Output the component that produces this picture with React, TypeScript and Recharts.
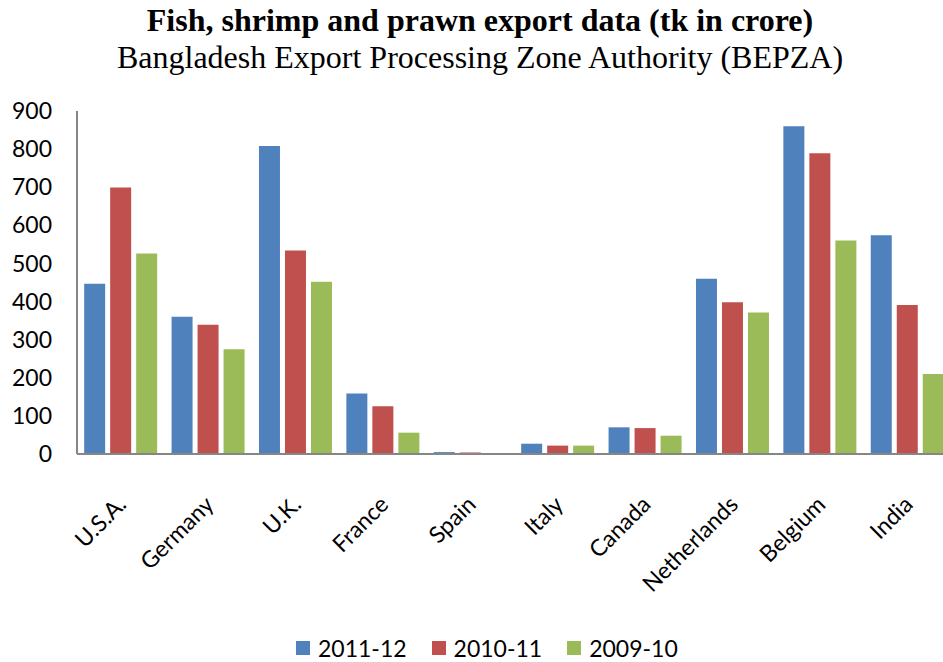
import { Bar, BarChart, XAxis, YAxis } from "recharts";

const countries = [
  "U.S.A.",
  "Germany",
  "U.K.",
  "France",
  "Spain",
  "Italy",
  "Canada",
  "Netherlands",
  "Belgium",
  "India",
];
const y2011_12 = [447, 360, 808, 159, 5, 27, 70, 460, 860, 574];
const y2010_11 = [699, 339, 534, 125, 4, 22, 68, 398, 789, 391];
const y2009_10 = [526, 275, 452, 56, 0, 22, 48, 371, 560, 210];
const yTicks = [0, 100, 200, 300, 400, 500, 600, 700, 800, 900];

const SERIES = [
  { key: "s1", name: "2011-12", color: "#4F81BD", values: y2011_12 },
  { key: "s2", name: "2010-11", color: "#C0504D", values: y2010_11 },
  { key: "s3", name: "2009-10", color: "#9BBB59", values: y2009_10 },
];

const data = countries.map((c, i) => ({
  country: c,
  s1: y2011_12[i],
  s2: y2010_11[i],
  s3: y2009_10[i],
}));

const AXIS_COLOR = "#868686";
const FONT = "Lato, 'Liberation Sans', sans-serif";

function CountryTick({ x, y, payload }: any) {
  return (
    <text
      x={x + 7}
      y={y + 44}
      textAnchor="end"
      transform={`rotate(-45, ${x + 7}, ${y + 44})`}
      fontSize={23}
      fontFamily={FONT}
      fill="#000"
    >
      {payload.value}
    </text>
  );
}

export default function App() {
  return (
    <div
      style={{
        position: "absolute",
        left: 0,
        top: 0,
        width: 943,
        height: 662,
        overflow: "hidden",
        background: "#fff",
      }}
    >
      <div
        style={{
          position: "absolute",
          left: 0,
          width: 960,
          top: 2,
          textAlign: "center",
          fontFamily: "'Liberation Serif', 'Times New Roman', serif",
          color: "#000",
        }}
      >
        <div style={{ fontSize: 32, fontWeight: "bold", lineHeight: "37px" }}>
          Fish, shrimp and prawn export data (tk in crore)
        </div>
        <div style={{ fontSize: 32, lineHeight: "37px" }}>
          Bangladesh Export Processing Zone Authority (BEPZA)
        </div>
      </div>
      <BarChart
        width={960}
        height={662}
        data={data}
        margin={{ top: 111, right: 9, bottom: 0, left: 0 }}
        barCategoryGap="8.2%"
        barGap={5}
      >
        <XAxis
          dataKey="country"
          tick={<CountryTick />}
          tickLine={false}
          axisLine={{ stroke: AXIS_COLOR, strokeWidth: 2 }}
          height={208}
          interval={0}
        />
        <YAxis
          domain={[0, 900]}
          ticks={yTicks}
          tickLine={false}
          tickSize={0}
          tickMargin={25}
          axisLine={{ stroke: AXIS_COLOR, strokeWidth: 2 }}
          width={77}
          tick={{ fontSize: 23, fontFamily: FONT, fill: "#000" }}
        />
        {SERIES.map((s) => (
          <Bar
            key={s.key}
            dataKey={s.key}
            name={s.name}
            fill={s.color}
            isAnimationActive={false}
          />
        ))}
      </BarChart>
      <div
        style={{
          position: "absolute",
          left: 296,
          top: 634,
          display: "flex",
          alignItems: "center",
          gap: 25,
          fontFamily: FONT,
          fontSize: 23,
          color: "#000",
        }}
      >
        {SERIES.map((s) => (
          <div
            key={s.key}
            style={{ display: "flex", alignItems: "center", gap: 8 }}
          >
            <span
              style={{
                display: "inline-block",
                width: 14,
                height: 14,
                background: s.color,
              }}
            />
            <span>{s.name}</span>
          </div>
        ))}
      </div>
    </div>
  );
}
